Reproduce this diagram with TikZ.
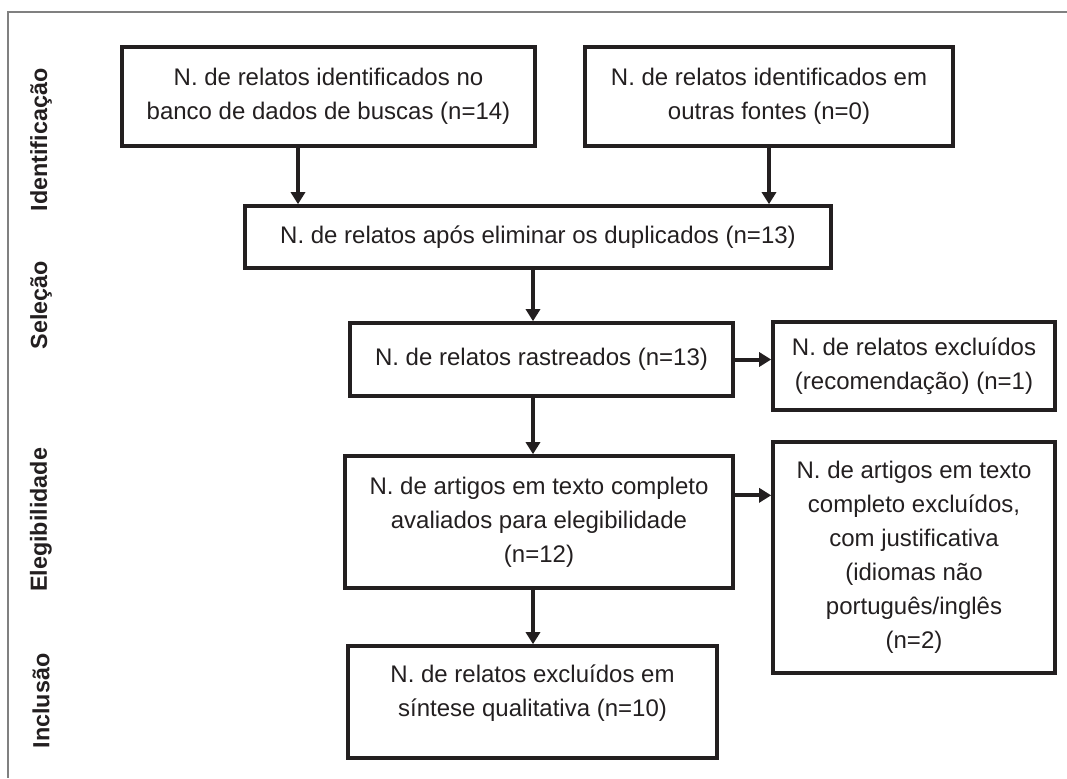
\documentclass[tikz,border=0pt]{standalone}
\usepackage{fontspec}
\setmainfont{Liberation Sans}
\usetikzlibrary{arrows.meta}
\definecolor{ink}{HTML}{231F20}
\tikzset{
  box/.style={draw=ink, line width=2.7pt, align=center, text=ink, inner sep=0pt,
    font=\fontsize{18}{25.5}\selectfont},
  phase/.style={rotate=90, text=ink, font=\bfseries\fontsize{17.5}{20}\selectfont},
  arr/.style={draw=ink, line width=3pt, -{Triangle[length=9pt,width=10.5pt]}}
}
\begin{document}
\begin{tikzpicture}[x=0.75pt,y=-0.75pt]
      \useasboundingbox (0,0) rectangle (1067,778);
      \draw[gray, line width=1.1pt] (1067,12) -- (8,12) -- (8,778);
      \node[phase] (id) at (41,140) {Identificação};
      \node[phase] (sel) at (41,305) {Seleção};
      \node[phase] (eleg) at (41,520) {Elegibilidade};
      \node[phase] (inc) at (41,701) {Inclusão};
      \node[box, minimum width=309.75pt, minimum height=74.25pt] (A) at (328.5,96.5)
        {N. de relatos identificados no\\banco de dados de buscas (n=14)};
      \node[box, minimum width=276pt, minimum height=74.25pt] (B) at (769,96.5)
        {N. de relatos identificados em\\outras fontes (n=0)};
      \node[box, minimum width=439.5pt, minimum height=46.5pt] (C) at (538,237)
        {N. de relatos após eliminar os duplicados (n=13)};
      \node[box, minimum width=287.25pt, minimum height=54.75pt] (D) at (541.5,359.5)
        {N. de relatos rastreados (n=13)};
      \node[box, minimum width=211.5pt, minimum height=66pt] (E) at (914,366)
        {N. de relatos excluídos\\(recomendação) (n=1)};
      \node[box, minimum width=291pt, minimum height=99pt] (F) at (539,522)
        {N. de artigos em texto completo\\avaliados para elegibilidade\\(n=12)};
      \node[box, minimum width=211.5pt, minimum height=173.25pt] (G) at (914,557.5)
        {N. de artigos em texto\\completo excluídos,\\com justificativa\\(idiomas não\\português/inglês\\(n=2)};
      \node[box, minimum width=276.75pt, minimum height=84pt, text depth=17pt] (H) at (532.5,702)
        {N. de relatos excluídos em\\síntese qualitativa (n=10)};
      \coordinate (drop) at (298,0);
      \coordinate (spine) at (533,0);
      \begin{scope}[arr]
        \draw (A.south -| drop) -- (C.north -| drop);
        \draw (B.south) -- (B.south |- C.north);
        \draw (C.south -| spine) -- (D.north -| spine);
        \draw (D.east) -- (D.east -| E.west);
        \draw (D.south -| spine) -- (F.north -| spine);
        \draw ([yshift=20pt]F.east) -- ([yshift=20pt]F.east -| G.west);
        \draw (F.south -| spine) -- (H.north -| spine);
      \end{scope}
    \end{tikzpicture}
\end{document}
